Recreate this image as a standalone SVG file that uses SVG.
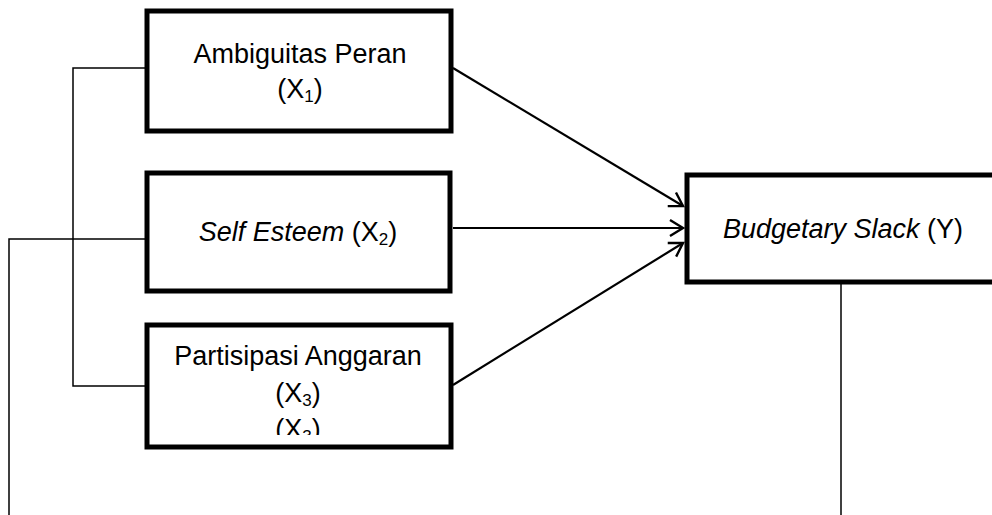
<svg xmlns="http://www.w3.org/2000/svg" width="992" height="515" viewBox="0 0 992 515">
<style>
.box{fill:#fff;stroke:#000;stroke-width:5}
.t{font-family:"Liberation Sans",Arial,sans-serif;font-size:27px;fill:#000;text-anchor:middle}
.i{font-style:italic}
.sub{font-size:17px}
.thin{fill:none;stroke:#000;stroke-width:1.5}
.arr{fill:none;stroke:#000;stroke-width:2.2;marker-end:url(#ah)}
</style>
<defs>
<marker id="ah" markerUnits="userSpaceOnUse" markerWidth="20" markerHeight="20" refX="15" refY="8" orient="auto" overflow="visible">
<path d="M2,0 L15,8 L2,16" fill="none" stroke="#000" stroke-width="2.4"/>
</marker>
<clipPath id="c3"><rect x="150" y="328" width="298" height="107"/></clipPath>
</defs>
<g id="connectors">
<polyline class="thin" points="147,68 73,68 73,386 147,386"/>
<polyline class="thin" points="147,239 9,239 9,515"/>
<line class="thin" x1="841" y1="282" x2="841" y2="515"/>
<line class="arr" x1="453" y1="68" x2="683" y2="206"/>
<line class="arr" x1="453" y1="228" x2="683" y2="228"/>
<line class="arr" x1="453" y1="385" x2="683" y2="243"/>
</g>
<g id="x1">
<rect class="box" x="147" y="11" width="304" height="120"/>
<text class="t" x="300" y="63">Ambiguitas Peran</text>
<text class="t" x="300" y="98">(X<tspan class="sub" dy="4">1</tspan><tspan dy="-4">)</tspan></text>
</g>
<g id="x2">
<rect class="box" x="147" y="173" width="303" height="118"/>
<text class="t" x="298" y="241"><tspan class="i">Self Esteem</tspan> (X<tspan class="sub" dy="4">2</tspan><tspan dy="-4">)</tspan></text>
</g>
<g id="x3">
<rect class="box" x="147" y="325" width="304" height="122"/>
<g clip-path="url(#c3)">
<text class="t" x="298" y="365">Partisipasi Anggaran</text>
<text class="t" x="298" y="402">(X<tspan class="sub" dy="4">3</tspan><tspan dy="-4">)</tspan></text>
<text class="t" x="298" y="438">(X<tspan class="sub" dy="4">3</tspan><tspan dy="-4">)</tspan></text>
</g>
</g>
<g id="y">
<rect class="box" x="687" y="175" width="320" height="107"/>
<text class="t" x="843" y="238"><tspan class="i">Budgetary Slack</tspan> (Y)</text>
</g>
</svg>
